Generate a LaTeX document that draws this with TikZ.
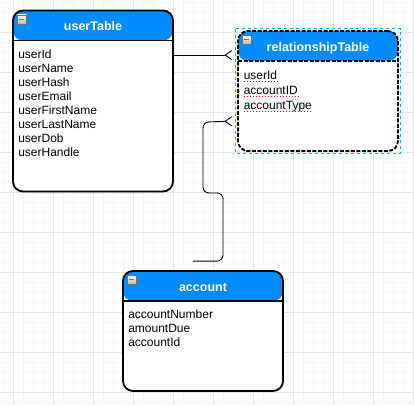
\documentclass[tikz,border=0pt]{standalone}
\usepackage{fontspec}
\setmainfont{Liberation Sans}
\usetikzlibrary{positioning,arrows.meta}

\definecolor{hdblue}{HTML}{008CFF}
\definecolor{selblue}{HTML}{00A8FF}
\definecolor{gridmajor}{HTML}{E6E6E6}
\definecolor{gridminor}{HTML}{F7F7F7}
\definecolor{spellred}{HTML}{FF0000}

\tikzset{
	entity/.style={draw, line width=1.8pt, rounded corners=10pt, minimum width=160pt, inner sep=0pt, fill=white,
		path picture={
			\fill[hdblue] (path picture bounding box.north west) rectangle ([yshift=-30pt]path picture bounding box.north east);
			\draw[line width=1.8pt] ([yshift=-30pt]path picture bounding box.north west) -- ([yshift=-30pt]path picture bounding box.north east);
		}},
	entityname/.style={text=white, font=\bfseries\fontsize{12.5}{15}\selectfont, anchor=base, inner sep=0pt},
	attr/.style={font=\fontsize{12}{14}\selectfont, anchor=base west, inner sep=0pt},
	minbox/.style={draw=black!55, line width=0.4pt, top color=white, bottom color=black!30, minimum size=9pt, inner sep=0pt, anchor=north west,
		path picture={\draw[line width=1pt] ([xshift=2pt]path picture bounding box.west) -- ([xshift=-2pt]path picture bounding box.east);}},
	link/.style={draw, line width=0.9pt, rounded corners=6pt, -{Straight Barb[reversed, length=6.5pt, width=9pt]}, shorten >=5pt},
	spell/.style={draw=spellred, line width=1.5pt, dash pattern=on 1.5pt off 1.5pt},
}

\begin{document}
\begin{tikzpicture}[x=1pt, y=-1pt]
	\useasboundingbox (0,0) rectangle (414,405);
	% background grid
	\fill[white] (0,0) rectangle (414,405);
	\foreach \x in {3,13,...,413} \draw[gridminor, line width=0.6pt] (\x,0) -- (\x,405);
	\foreach \y in {2,12,...,402} \draw[gridminor, line width=0.6pt] (0,\y) -- (414,\y);
	\foreach \x in {13,53,...,413} \draw[gridmajor, line width=0.9pt] (\x,0) -- (\x,405);
	\foreach \y in {32,72,...,392} \draw[gridmajor, line width=0.9pt] (0,\y) -- (414,\y);

	% tables
	\node[entity, minimum height=181pt] (user) at (93,101) {};
	\node[entity, minimum height=120pt, dash pattern=on 4pt off 1.5pt] (relation) at (318,91) {};
	\node[entity, minimum height=120pt] (account) at (203,331) {};
	\draw[selblue, line width=0.8pt, dash pattern=on 3pt off 3pt] ([shift={(-1.5pt,1.5pt)}]relation.north west) rectangle ([shift={(1.5pt,-1.5pt)}]relation.south east);

	\node[minbox] (userMin) at ([shift={(5pt,-5pt)}]user.north west) {};
	\node[minbox] (relationMin) at ([shift={(5pt,-5pt)}]relation.north west) {};
	\node[minbox] (accountMin) at ([shift={(5pt,-5pt)}]account.north west) {};

	\node[entityname] (userName) at ([yshift=-21pt]user.north) {userTable};
	\node[entityname] (relationName) at ([yshift=-21pt]relation.north) {relationshipTable};
	\node[entityname] (accountName) at ([yshift=-21pt]account.north) {account};

	% fields
	\foreach \f [count=\i] in {userId,userName,userHash,userEmail,userFirstName,userLastName,userDob,userHandle}
		\node[attr] (user-\i) at ([shift={(6pt,{-34.5pt-14pt*\i})}]user.north west) {\f};
	\foreach \f [count=\i] in {userId,accountID,accountType} {
		\node[attr] (relation-\i) at ([shift={(6.5pt,{-34pt-15pt*\i})}]relation.north west) {\f};
		\draw[spell] ([yshift=-2.2pt]relation-\i.base west) -- ([yshift=-2.2pt]relation-\i.base east);
	}
	\foreach \f [count=\i] in {accountNumber,amountDue,accountId}
		\node[attr] (account-\i) at ([shift={(6pt,{-34.5pt-14pt*\i})}]account.north west) {\f};

	% connectors
	\coordinate (relIn1) at ([yshift=-25pt]relation.north west);
	\coordinate (relIn2) at ([yshift=-91pt]relation.north west);
	\coordinate (accStart) at ([shift={(-10pt,9pt)}]account.north);
	\draw[link] (user.east |- relIn1) -- (relIn1);
	\draw[link] (accStart) -| (223,193) -| (203,122) -- (relIn2);
\end{tikzpicture}
\end{document}
